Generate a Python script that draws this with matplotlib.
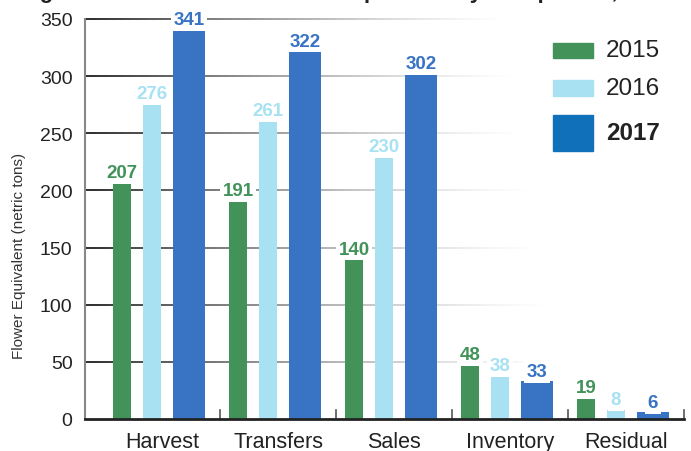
import numpy as np
import matplotlib
matplotlib.use('Agg')
import matplotlib.pyplot as plt
from matplotlib.collections import LineCollection
from matplotlib.patches import Rectangle

categories = ['Harvest', 'Transfers', 'Sales', 'Inventory', 'Residual']
years = ['2015', '2016', '2017']
values_2015 = [207, 191, 140, 48, 19]
values_2016 = [276, 261, 230, 38, 8]
values_2017 = [341, 322, 302, 33, 6]
y_ticks = [0, 50, 100, 150, 200, 250, 300, 350]

bar_colors = ['#43925a', '#a8e2f2', '#3873c4']
legend_colors = ['#43925a', '#a8e2f2', '#1170ba']
label_colors = ['#43925a', '#a8e2f2', '#3873c4']

plt.rcParams['font.family'] = ['Liberation Sans', 'DejaVu Sans']

W, H = 691, 452
fig = plt.figure(figsize=(W / 100, H / 100), dpi=100)
ax = fig.add_axes([85 / W, 32 / H, 599 / W, 400 / H])

x = np.arange(len(categories))
offsets = [-0.345, -0.086, 0.233]
widths = [0.155, 0.155, 0.276]
series = [values_2015, values_2016, values_2017]

for vals, off, w, col, lcol in zip(series, offsets, widths, bar_colors, label_colors):
    ax.bar(x + off, vals, width=w, color=col, zorder=3)
    for xi, v in zip(x, vals):
        ax.annotate(str(v), (xi + off, v), xytext=(0, 1), textcoords='offset points',
                    ha='center', va='bottom', fontsize=13.5, fontweight='bold', color=lcol,
                    zorder=5, annotation_clip=False,
                    bbox=dict(boxstyle='square,pad=0.15', fc='white', ec='none'))

ax.set_xlim(-0.664, 4.5)
ax.set_ylim(0, 350)

# fading gridlines
n = 200
for yt in y_ticks[1:]:
    end = 0.81 - (yt / 350) * 0.10
    xs = np.linspace(0, end, n + 1)
    segs = [[(xs[i], yt), (xs[i + 1], yt)] for i in range(n)]
    t = np.linspace(0, 1, n)
    cols = [(0.1, 0.1, 0.1, (1 - ti) ** 1.4) for ti in t]
    lc = LineCollection(segs, colors=cols, linewidths=1.3,
                        transform=ax.get_yaxis_transform(), zorder=1)
    lc.set_clip_on(False)
    ax.add_collection(lc)

ax.set_yticks(y_ticks)
ax.set_yticklabels([str(v) for v in y_ticks], fontsize=14, color='#222222')
ax.tick_params(axis='y', length=0, pad=9)

ax.set_xticks(x)
ax.set_xticklabels(categories, fontsize=15.5, color='#222222')
ax.tick_params(axis='x', length=0, pad=9)

# small boundary ticks on the baseline
for b in np.arange(0.5, 5.0, 1.0):
    ax.plot([b, b], [0, 8], color='#555555', lw=1.2, zorder=2, clip_on=False)

for s in ['top', 'right']:
    ax.spines[s].set_visible(False)
ax.spines['left'].set_color('#888888')
ax.spines['left'].set_linewidth(1.5)
ax.spines['bottom'].set_color('#222222')
ax.spines['bottom'].set_linewidth(2)
ax.spines['bottom'].set_zorder(4)

ax.set_ylabel('Flower Equivalent (netric tons)', fontsize=11, color='#333333')
ax.yaxis.set_label_coords(-0.098, 0.41)

# legend drawn by hand
leg_items = [(44, 59), (81, 97), (116, 152)]
leg_text_y = [51, 89, 134]
for yr, col, (y0, y1), ty in zip(years, legend_colors, leg_items, leg_text_y):
    fig.patches.append(Rectangle((553 / W, 1 - y1 / H), 40 / W, (y1 - y0) / H,
                                 transform=fig.transFigure, color=col))
    fig.text(606 / W, 1 - ty / H, yr, fontsize=17.5, color='#222222', va='center',
             fontweight='bold' if yr == '2017' else 'normal')

# title running off the top edge
fig.text(20 / W, 1 + 2.5 / H, 'Figure 1. Flower Harvest and Disposition by Component, 2015-2017',
         fontsize=16, fontweight='bold', color='#222222', va='baseline')

fig.savefig('out.png', dpi=100)
